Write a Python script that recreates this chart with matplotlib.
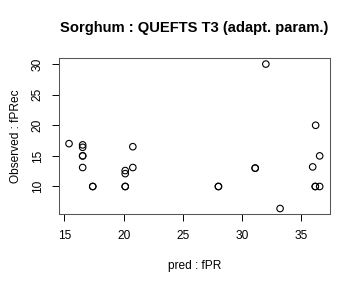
import matplotlib
matplotlib.use("Agg")
import matplotlib.pyplot as plt

pred = [15.4, 16.55, 16.55, 16.55, 16.55, 16.55, 17.4, 17.4, 20.14, 20.14, 20.14, 20.14,
        20.78, 20.78, 28.0, 28.0, 31.1, 31.1, 32.0, 33.2, 35.95, 36.2, 36.17, 36.17, 36.54, 36.54]
obs = [17.0, 16.8, 16.4, 15.0, 15.0, 13.1, 10.0, 10.0, 10.0, 10.0, 12.6, 12.1,
       16.5, 13.1, 10.0, 10.0, 13.0, 13.0, 30.0, 6.4, 13.2, 20.0, 10.0, 10.0, 15.0, 10.0]
xticks = [15, 20, 25, 30, 35]
yticks = [10, 15, 20, 25, 30]

plt.rcParams['font.family'] = ['Liberation Sans', 'DejaVu Sans']

fig = plt.figure(figsize=(3.6, 2.88), dpi=100)
ax = fig.add_axes([59/360, 1-214.3/288, (329.7-59)/360, (214.3-58.3)/288])

ax.scatter(pred, obs, s=22, facecolors='none', edgecolors='black', linewidths=0.8)

def ext(v):
    lo, hi = min(v), max(v)
    d = 0.04*(hi-lo)
    return lo-d, hi+d

ax.set_xlim(*ext(pred))
ax.set_ylim(*ext(obs))
ax.set_xticks(xticks)
ax.set_yticks(yticks)
ax.set_xticklabels([str(t) for t in xticks], fontsize=8.6)
ax.set_yticklabels([str(t) for t in yticks], fontsize=8.6, rotation=90, va='center')
ax.tick_params(direction='out', length=5, width=0.7, pad=6)
for s in ax.spines.values():
    s.set_linewidth(0.75)
    s.set_color('#555555')

ax.set_xlabel('pred : fPR', fontsize=8.6, labelpad=13)
ax.set_ylabel('Observed : fPRec', fontsize=8.6, labelpad=7)
ax.set_title('Sorghum : QUEFTS T3 (adapt. param.)', fontsize=10.6, fontweight='bold', pad=19)

fig.savefig('out.png', dpi=100)
